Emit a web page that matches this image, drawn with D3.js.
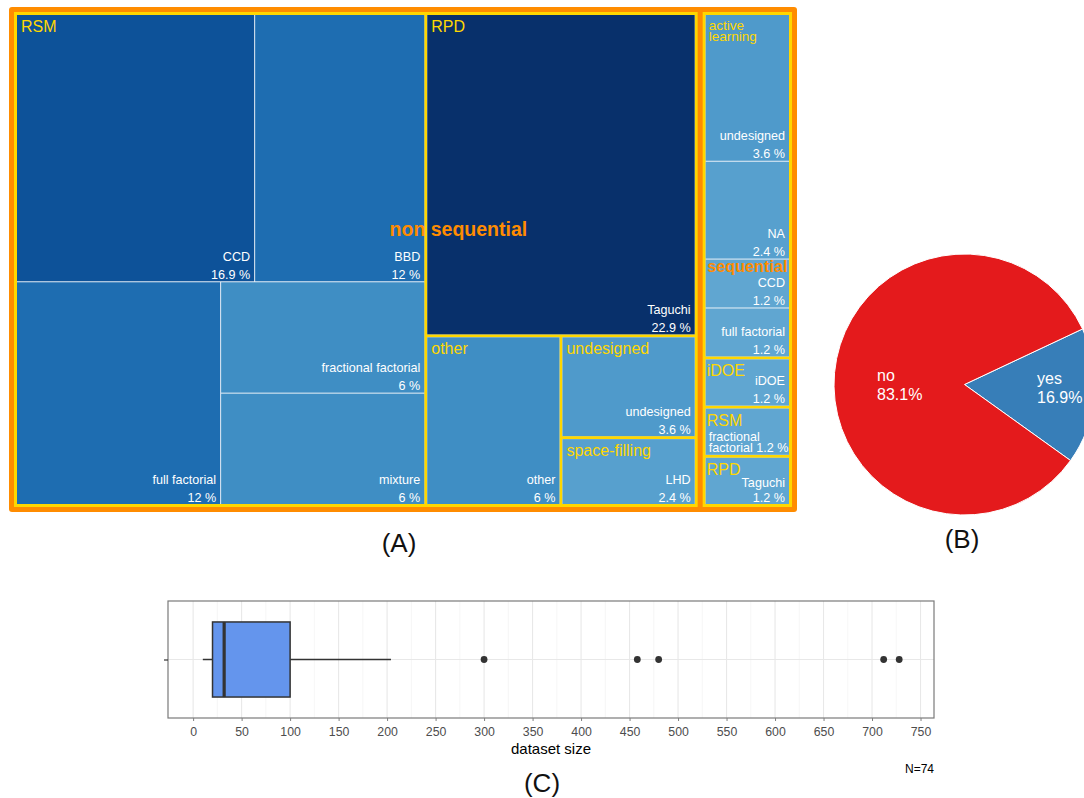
<!DOCTYPE html>
<html>
<head>
<meta charset="utf-8">
<script src="https://cdn.jsdelivr.net/npm/d3@7"></script>
<style>
  body { margin: 0; background: #fff; }
  svg { display: block; font-family: "Liberation Sans", Arial, Helvetica, sans-serif; }
</style>
</head>
<body>
<svg id="fig" width="1084" height="798"></svg>
<script>
// ---------- (A) treemap: studies by approach, design family and design ----------
const approach = [
  "non sequential", "non sequential", "non sequential", "non sequential", "non sequential",
  "non sequential", "non sequential", "non sequential", "non sequential",
  "sequential", "sequential", "sequential", "sequential", "sequential", "sequential", "sequential"
];
const family = [
  "RSM", "RSM", "RSM", "RSM", "RSM", "RPD", "other", "undesigned", "space-filling",
  "active learning", "active learning", "active learning", "active learning", "iDOE", "RSM", "RPD"
];
const design = [
  "CCD", "BBD", "full factorial", "fractional factorial", "mixture", "Taguchi", "other", "undesigned", "LHD",
  "undesigned", "NA", "CCD", "full factorial", "iDOE", "fractional factorial", "Taguchi"
];
const studies = [14, 10, 10, 5, 5, 19, 5, 3, 2, 3, 2, 1, 1, 1, 1, 1];

// ---------- (B) pie ----------
const pieCategories = ["yes", "no"];
const pieShares = [16.9, 83.1];
const pieColors = ["#377EB8", "#E41A1C"];

// ---------- (C) boxplot of dataset size ----------
const boxStats = [10, 20, 32, 100, 204];   // lower whisker, Q1, median, Q3, upper whisker
const outliers = [300, 458, 480, 712, 728];
const sizeTicks = [0, 50, 100, 150, 200, 250, 300, 350, 400, 450, 500, 550, 600, 650, 700, 750];
const sampleSize = 74;

const svg = d3.select("#fig");
const ORANGE = "#FF8C00", GOLD = "#FFD700";

// ================= (A) treemap =================
const rows = design.map((d, i) => ({ approach: approach[i], family: family[i], design: d, studies: studies[i] }));
const total = d3.sum(studies);
const pctOf = v => v / total * 100;
const fmtPct = d3.format(".1~f");

const root = d3.hierarchy(d3.group(rows, d => d.approach, d => d.family))
  .sum(d => d.studies)
  .sort((a, b) => b.value - a.value);

const padOuter = [5, 3, 0], padInner = [5, 3, 1];
d3.treemap()
  .tile(d3.treemapSquarify.ratio(1))
  .size([788, 505])
  .paddingOuter(n => padOuter[n.depth] || 0)
  .paddingInner(n => padInner[n.depth] || 0)(root);

const tm = svg.append("g").attr("transform", "translate(9,7)");
const color = d3.scaleSequential([0, d3.max(rows, r => pctOf(r.studies))], t => d3.interpolateBlues(0.51 + 0.49 * t));

// frame layers: orange outer, yellow approach groups, white family groups (gaps between designs)
tm.append("rect").attr("x", root.x0).attr("y", root.y0)
  .attr("width", root.x1 - root.x0).attr("height", root.y1 - root.y0)
  .attr("rx", 3).attr("fill", ORANGE);
tm.selectAll("rect.l1").data(root.children).join("rect").attr("class", "l1")
  .attr("x", d => d.x0).attr("y", d => d.y0)
  .attr("width", d => d.x1 - d.x0).attr("height", d => d.y1 - d.y0)
  .attr("fill", GOLD);
const level2 = root.descendants().filter(d => d.depth === 2);
tm.selectAll("rect.l2").data(level2).join("rect").attr("class", "l2")
  .attr("x", d => d.x0).attr("y", d => d.y0)
  .attr("width", d => d.x1 - d.x0).attr("height", d => d.y1 - d.y0)
  .attr("fill", "#e9f1f8");

const leaves = root.leaves();
tm.selectAll("rect.leaf").data(leaves).join("rect").attr("class", "leaf")
  .attr("x", d => d.x0).attr("y", d => d.y0)
  .attr("width", d => d.x1 - d.x0).attr("height", d => d.y1 - d.y0)
  .attr("fill", d => color(pctOf(d.data.studies)));

// design labels, bottom-right of each cell
leaves.forEach(d => {
  const p = fmtPct(pctOf(d.data.studies));
  const w = d.x1 - d.x0, h = d.y1 - d.y0;
  const g = tm.append("g").attr("fill", "#fff").attr("font-size", 12.6).style("white-space", "pre");
  const probe = g.append("text").text(d.data.design);
  const nameW = probe.node().getComputedTextLength();
  probe.remove();
  const step = h < 48 && d.parent.data[0] === "RPD" ? 15 : 18;
  if (nameW > w - 8) {
    const words = d.data.design.split(" ");
    g.append("text").attr("x", d.x0 + 3).attr("y", d.y1 - 13.5).text(words[0]);
    g.append("text").attr("x", d.x0 + 3).attr("y", d.y1 - 2.5)
      .text(words.slice(1).join(" ") + " " + p + " %");
  } else {
    g.append("text").attr("x", d.x1 - 4).attr("y", d.y1 - 2.5 - step)
      .attr("text-anchor", "end").text(d.data.design + " ");
    g.append("text").attr("x", d.x1 - 4).attr("y", d.y1 - 2.5)
      .attr("text-anchor", "end").text(" " + p + " %");
  }
});

// family labels, top-left of each group
level2.forEach(d => {
  const w = d.x1 - d.x0;
  const pad = w > 120 ? 4 : 1;
  const t = tm.append("text").attr("x", d.x0 + pad).attr("y", d.y0 + 17)
    .attr("fill", GOLD).attr("font-size", 16).text(d.data[0]);
  if (t.node().getComputedTextLength() > w - pad - 2) {
    t.remove();
    d.data[0].split(" ").forEach((word, i) => {
      tm.append("text").attr("x", d.x0 + pad + 2).attr("y", d.y0 + 15 + i * 10.8)
        .attr("fill", GOLD).attr("font-size", 13.5).text(word);
    });
  }
});

// approach labels
const approachLabelAt = { "non sequential": [0.65, 0.452], "sequential": [0.5, 0.525] };
root.children.forEach(d => {
  const w = d.x1 - d.x0, h = d.y1 - d.y0;
  const [fx, fy] = approachLabelAt[d.data[0]];
  const t = tm.append("text").attr("x", d.x0 + fx * w).attr("y", d.y0 + fy * h)
    .attr("text-anchor", "middle").attr("font-weight", "bold").attr("font-size", 19.5)
    .attr("fill", ORANGE).text(d.data[0]);
  const tw = t.node().getComputedTextLength();
  if (tw > w - 9) t.attr("font-size", 19.5 * (w - 9) / tw);
});

// ================= (B) pie =================
const pcx = 964.5, pcy = 384.5, pr = 130.5;
const a0 = 64.8 * Math.PI / 180;
const pieArcs = d3.pie().sort(null).startAngle(a0).endAngle(a0 + 2 * Math.PI)(pieShares);
const arc = d3.arc().innerRadius(0).outerRadius(pr);
const pg = svg.append("g").attr("transform", `translate(${pcx},${pcy})`);
pg.selectAll("path").data(pieArcs).join("path")
  .attr("d", arc).attr("fill", (d, i) => pieColors[i])
  .attr("stroke", "#fff").attr("stroke-width", 1);
const pieLabelOffset = [[72.5, -0.5], [-87.5, -3.5]];
pieArcs.forEach((d, i) => {
  const [ox, oy] = pieLabelOffset[i];
  const t = pg.append("text").attr("fill", "#fff").attr("font-size", 16);
  t.append("tspan").attr("x", ox).attr("y", oy).text(pieCategories[i]);
  t.append("tspan").attr("x", ox).attr("y", oy + 19).text(d3.format(".1f")(pieShares[i]) + "%");
});

// ================= (C) boxplot =================
const pL = 168, pR = 934, pT = 601, pB = 718;
const dMin = boxStats[0], dMax = d3.max(outliers);
const ext = 0.05 * (dMax - dMin);
const x = d3.scaleLinear().domain([dMin - ext, dMax + ext]).range([pL, pR]);
const y = d3.scaleLinear().domain([0.4, 1.6]).range([pB, pT]);
const bp = svg.append("g");

// grid
const minorTicks = d3.range(25, 776, 50).filter(v => x(v) > pL && x(v) < pR);
bp.selectAll("line.minor").data(minorTicks).join("line")
  .attr("x1", d => x(d)).attr("x2", d => x(d)).attr("y1", pT).attr("y2", pB)
  .attr("stroke", "#f2f2f2").attr("stroke-width", 0.7);
bp.selectAll("line.major").data(sizeTicks).join("line")
  .attr("x1", d => x(d)).attr("x2", d => x(d)).attr("y1", pT).attr("y2", pB)
  .attr("stroke", "#e8e8e8").attr("stroke-width", 1.1);
bp.append("line").attr("x1", pL).attr("x2", pR).attr("y1", y(1)).attr("y2", y(1))
  .attr("stroke", "#e8e8e8").attr("stroke-width", 1.1);

// whiskers, box, median
const ink = "#333333";
bp.append("line").attr("x1", x(boxStats[0])).attr("x2", x(boxStats[1])).attr("y1", y(1)).attr("y2", y(1))
  .attr("stroke", ink).attr("stroke-width", 1.5);
bp.append("line").attr("x1", x(boxStats[3])).attr("x2", x(boxStats[4])).attr("y1", y(1)).attr("y2", y(1))
  .attr("stroke", ink).attr("stroke-width", 1.5);
bp.append("rect").attr("x", x(boxStats[1])).attr("y", y(1.385))
  .attr("width", x(boxStats[3]) - x(boxStats[1])).attr("height", y(0.615) - y(1.385))
  .attr("fill", "#6495ED").attr("stroke", ink).attr("stroke-width", 1.5);
bp.append("line").attr("x1", x(boxStats[2])).attr("x2", x(boxStats[2]))
  .attr("y1", y(1.385)).attr("y2", y(0.615)).attr("stroke", ink).attr("stroke-width", 3.2);
bp.selectAll("circle").data(outliers).join("circle")
  .attr("cx", d => x(d)).attr("cy", y(1)).attr("r", 3.4).attr("fill", ink);

// panel border
bp.append("rect").attr("x", pL).attr("y", pT).attr("width", pR - pL).attr("height", pB - pT)
  .attr("fill", "none").attr("stroke", "#7a7a7a").attr("stroke-width", 1.2);

// axes
const xAxis = bp.append("g").attr("transform", `translate(0,${pB})`)
  .call(d3.axisBottom(x).tickValues(sizeTicks).tickSize(3).tickPadding(6).tickSizeOuter(0));
xAxis.select(".domain").remove();
xAxis.selectAll("line").attr("stroke", "#808080");
xAxis.selectAll("text").attr("fill", "#4d4d4d").attr("font-size", 12.3)
  .attr("font-family", "Liberation Sans, Arial, sans-serif");
const yAxis = bp.append("g").attr("transform", `translate(${pL},0)`)
  .call(d3.axisLeft(d3.scalePoint().domain(["dataset"]).range([pB, pT]).padding(0.5))
    .tickSize(4).tickFormat(() => "").tickSizeOuter(0));
yAxis.select(".domain").remove();
yAxis.selectAll("line").attr("stroke", ink).attr("stroke-width", 1.2);

bp.append("text").attr("x", (pL + pR) / 2).attr("y", 754).attr("text-anchor", "middle")
  .attr("font-size", 15).attr("fill", "#000").text("dataset size");
bp.append("text").attr("x", pR).attr("y", 773).attr("text-anchor", "end")
  .attr("font-size", 12).attr("fill", "#000").text("N=" + sampleSize);

// ================= panel tags =================
const tags = [["(A)", 399, 552], ["(B)", 962, 548], ["(C)", 542, 792]];
svg.selectAll("text.tag").data(tags).join("text").attr("class", "tag")
  .attr("x", d => d[1]).attr("y", d => d[2]).attr("text-anchor", "middle")
  .attr("font-size", 26).attr("fill", "#111").text(d => d[0]);
</script>
</body>
</html>
